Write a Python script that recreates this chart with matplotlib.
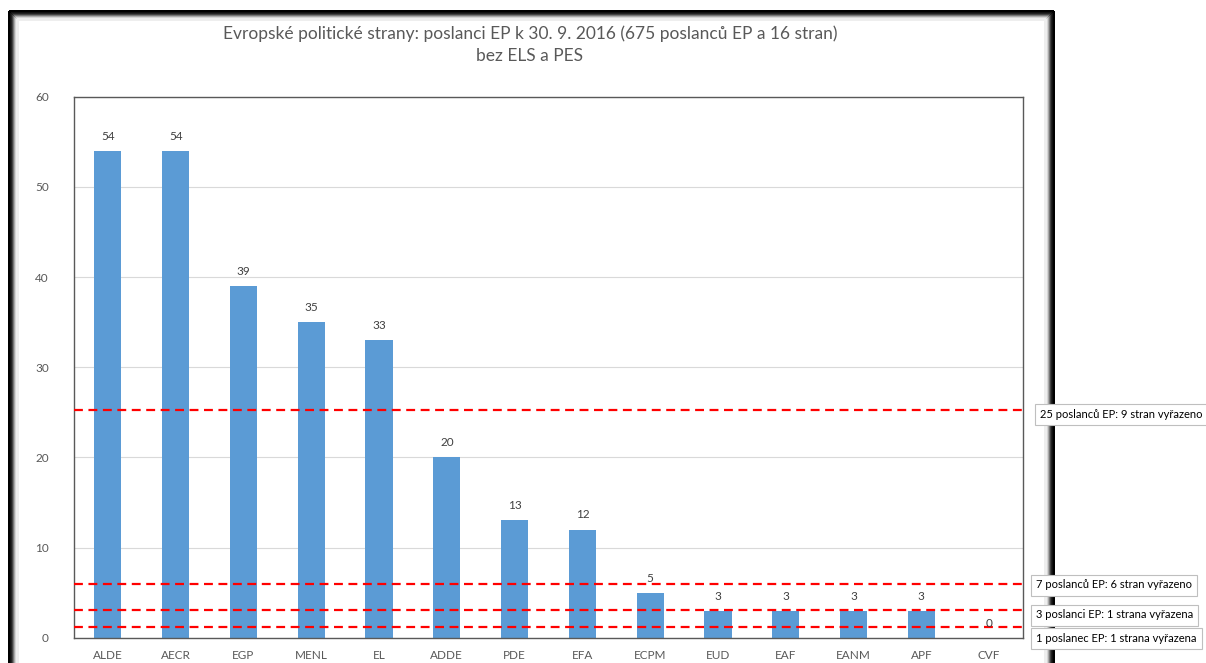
import matplotlib
matplotlib.use("Agg")
import matplotlib.pyplot as plt
from matplotlib.patches import Rectangle

plt.rcParams['font.family'] = ['Lato', 'DejaVu Sans']

categories = ["ALDE", "AECR", "EGP", "MENL", "EL", "ADDE", "PDE", "EFA",
              "ECPM", "EUD", "EAF", "EANM", "APF", "CVF"]
values = [54, 54, 39, 35, 33, 20, 13, 12, 5, 3, 3, 3, 3, 0]
threshold_values = [25.25, 6.0, 3.1, 1.15]
threshold_labels = ["25 poslanců EP: 9 stran vyřazeno",
                    "7 poslanců EP: 6 stran vyřazeno",
                    "3 poslanci EP: 1 strana vyřazena",
                    "1 poslanec EP: 1 strana vyřazena"]
label_y_px = [414, 585, 615, 638]
label_x_px = [1040, 1036, 1036, 1036]
title = "Evropské politické strany: poslanci EP k 30. 9. 2016 (675 poslanců EP a 16 stran)\nbez ELS a PES"

W, H = 1206, 663
fig = plt.figure(figsize=(W / 100, H / 100), dpi=100)

# Outer frame with soft inner shadow (drawn first, behind everything)
frame_colors = ["#000000", "#000000", "#111111", "#222222", "#444444",
                "#777777", "#aaaaaa", "#d5d5d5", "#eeeeee"]
left, top, right = 8, 10, 1053
for i, c in enumerate(frame_colors):
    x0 = (left + i + 0.5) / W
    x1 = (right - i - 0.5) / W
    y_top = 1 - (top + i + 0.5) / H
    fig.patches.append(Rectangle((x0, -0.2), x1 - x0, y_top + 0.2,
                                 transform=fig.transFigure, fill=False,
                                 edgecolor=c, linewidth=0.9, zorder=0,
                                 antialiased=False))

ax = fig.add_axes([74 / W, 1 - 637.7 / H, (1023 - 74) / W, (637.7 - 96.7) / H])
ax.set_zorder(1)

x = range(len(categories))
ax.bar(x, values, width=0.4, color="#5B9BD5", zorder=2)
for xi, v in zip(x, values):
    ax.text(xi, v + 1.0, str(v), ha="center", va="bottom", fontsize=8.5,
            color="#404040", zorder=4)

for tv in threshold_values:
    ax.axhline(tv, color="#FF0000", linestyle=(0, (4, 2.5)), linewidth=1.6, zorder=3)

ax.set_xlim(-0.5, len(categories) - 0.5)
ax.set_ylim(0, 60)
ax.set_yticks(range(0, 61, 10))
ax.set_xticks(list(x))
ax.set_xticklabels(categories)
ax.tick_params(axis="both", length=0, labelsize=8.5, colors="#595959")
ax.tick_params(axis="x", pad=9)
ax.tick_params(axis="y", pad=18)
ax.yaxis.grid(True, color="#D9D9D9", linewidth=0.8, zorder=0)
ax.set_axisbelow(True)
for s in ax.spines.values():
    s.set_color("#595959")
    s.set_linewidth(1.0)

# Title
fig.text(530 / W, 1 - 45 / H, title, ha="center", va="center", fontsize=12.5,
         color="#595959", linespacing=1.45)

# Threshold label boxes
for lbl, yp, xp in zip(threshold_labels, label_y_px, label_x_px):
    fig.text(xp / W, 1 - yp / H, lbl, ha="left", va="center", fontsize=8,
             color="#000000", zorder=5,
             bbox=dict(boxstyle="square,pad=0.45", facecolor="white",
                       edgecolor="#BFBFBF", linewidth=0.8))

fig.savefig("out.png", dpi=100)
